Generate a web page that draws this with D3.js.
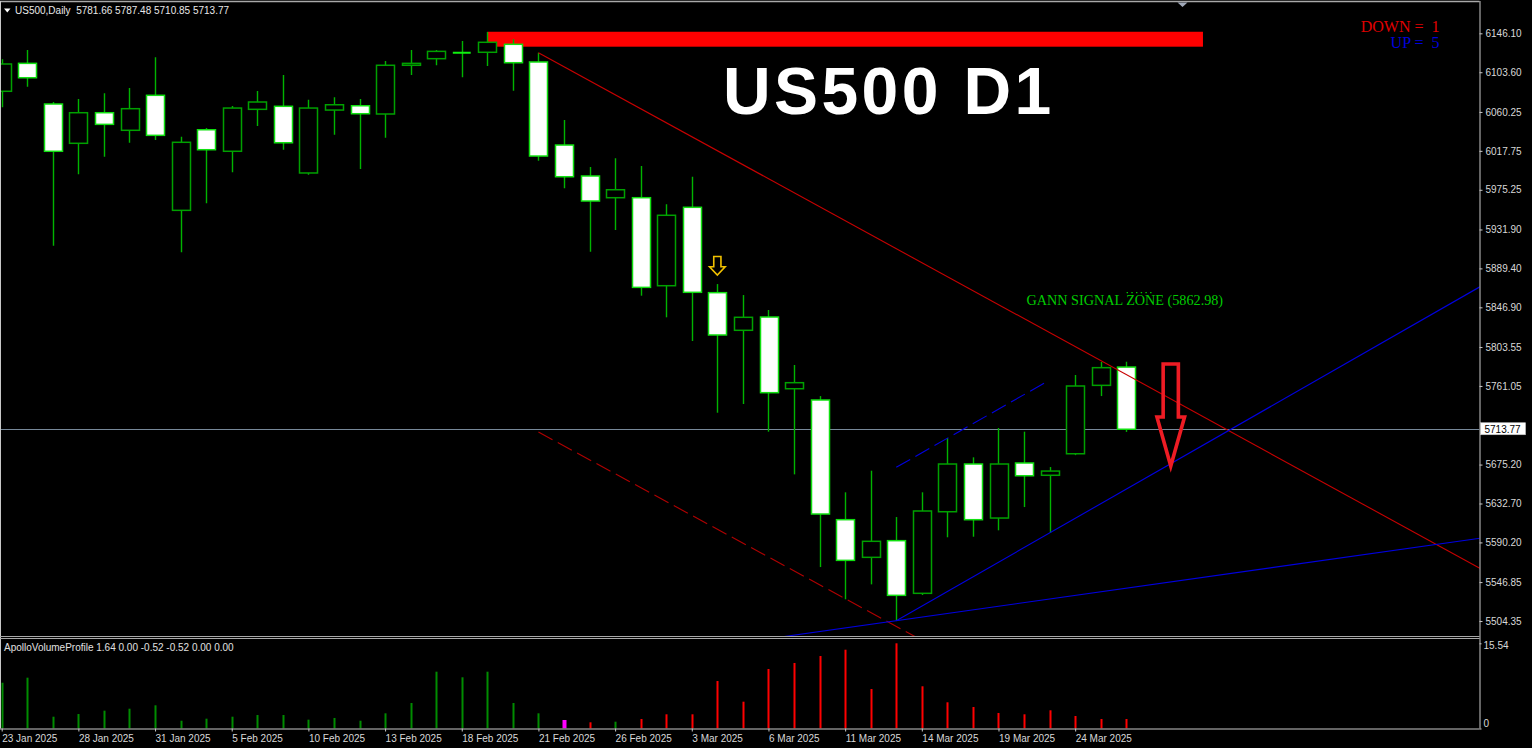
<!DOCTYPE html>
<html><head><meta charset="utf-8">
<script src="https://cdn.jsdelivr.net/npm/d3@7"></script>
<style>
html,body{margin:0;padding:0;background:#000;overflow:hidden;}
svg{display:block;}
text{font-family:"Liberation Sans",Arial,sans-serif;}
text.serif{font-family:"Liberation Serif","Times New Roman",serif;}
</style></head><body>
<svg id="chart" width="1532" height="748"></svg>
<script>
// ---------------- DATA ----------------
const dates = ["23 Jan 2025","24 Jan 2025","27 Jan 2025","28 Jan 2025","29 Jan 2025","30 Jan 2025","31 Jan 2025",
  "3 Feb 2025","4 Feb 2025","5 Feb 2025","6 Feb 2025","7 Feb 2025","10 Feb 2025","11 Feb 2025","12 Feb 2025",
  "13 Feb 2025","14 Feb 2025","17 Feb 2025","18 Feb 2025","19 Feb 2025","20 Feb 2025","21 Feb 2025","24 Feb 2025",
  "25 Feb 2025","26 Feb 2025","27 Feb 2025","28 Feb 2025","3 Mar 2025","4 Mar 2025","5 Mar 2025","6 Mar 2025",
  "7 Mar 2025","10 Mar 2025","11 Mar 2025","12 Mar 2025","13 Mar 2025","14 Mar 2025","17 Mar 2025","18 Mar 2025",
  "19 Mar 2025","20 Mar 2025","21 Mar 2025","24 Mar 2025","25 Mar 2025","26 Mar 2025"];
const opens  = [6082.8,6113.3,6068.9,6026.0,6059.4,6040.2,6078.4,5952.8,6040.8,6017.3,6063.1,6066.4,5993.6,6062.3,6067.0,
  6058.0,6111.2,6118.4,6124.9,6125.4,6134.1,6114.8,6024.1,5990.3,5966.6,5966.6,5870.5,5956.1,5862.9,5821.8,5836.3,
  5758.0,5745.7,5615.0,5573.9,5592.1,5534.6,5623.7,5675.8,5616.8,5676.9,5663.5,5687.0,5761.7,5781.66];
const highs  = [6117.7,6127.9,6071.1,6074.4,6080.6,6086.4,6119.9,6033.2,6042.7,6066.7,6083.1,6100.6,6073.6,6076.2,6074.4,
  6115.9,6127.9,6127.9,6137.7,6147.5,6139.5,6124.9,6051.4,6000.1,6009.6,6001.2,5959.4,5989.5,5872.3,5860.3,5844.0,
  5783.9,5750.0,5644.9,5668.5,5617.9,5644.9,5704.2,5683.1,5715.1,5711.1,5672.5,5773.0,5787.2,5787.48];
const lows   = [6065.3,6087.8,5914.2,5992.1,6011.4,6026.6,6029.6,5907.0,5960.5,5994.3,6044.9,6019.0,5991.7,6035.4,5997.9,
  6032.1,6100.6,6111.2,6098.1,6110.4,6083.4,6007.0,5976.8,5907.6,5931.3,5859.6,5836.0,5810.1,5731.8,5741.3,5711.1,
  5664.5,5563.3,5528.1,5544.4,5504.7,5532.8,5595.8,5596.4,5603.4,5628.8,5600.5,5685.5,5750.0,5710.85];
const closes = [6112.6,6097.6,6017.3,6059.4,6046.7,6063.8,6034.7,6027.1,6019.0,6064.5,6071.1,6026.6,6064.5,6068.1,6058.3,
  6111.2,6113.3,6126.4,6124.7,6136.3,6114.0,6012.1,5989.5,5963.0,5975.3,5868.7,5947.4,5863.3,5816.7,5836.0,5753.7,
  5764.6,5621.2,5570.6,5591.4,5532.4,5624.5,5675.8,5615.0,5675.8,5663.0,5668.1,5761.0,5781.0,5713.77];
const volumes = [8.35,9.27,2.15,2.64,3.25,3.61,4.23,1.42,1.79,2.15,2.46,2.46,1.61,1.92,1.42,2.77,4.65,10.36,9.34,10.36,
  4.65,2.77,1.55,1.13,1.24,1.73,2.59,2.59,8.66,4.89,10.85,11.95,13.22,14.37,7.20,15.54,7.70,4.78,3.92,2.83,2.59,3.32,
  2.28,1.73,1.73];
const volumeState = ["up","up","up","up","up","up","up","up","up","up","up","up","up","up","up","up","up","up","up","up",
  "up","up","climax","down","up","down","down","down","down","down","down","down","down","down","down","down","down",
  "down","down","down","down","down","down","down","down"];
const priceTicks = [6146.10,6103.60,6060.25,6017.75,5975.25,5931.90,5889.40,5846.90,5803.55,5761.05,5718.55,
  5675.20,5632.70,5590.20,5546.85,5504.35];
const dateTickIdx = [0,3,6,9,12,15,18,21,24,27,30,33,36,39,42];
const volumeTicks = [0, 15.54];
const symbolName = "US500,Daily";
const lastBar = [5781.66, 5787.48, 5710.85, 5713.77];
const lastPrice = 5713.77;
const gannLevel = 5862.98;
const signalCounts = {down: 1, up: 5};
const indicatorHeader = "ApolloVolumeProfile 1.64 0.00 -0.52 -0.52 0.00 0.00";
const chartTitle = "US500 D1";

// drawn objects (anchors: bar index, price)
const trendDown       = [[21, 6124.9], [44, 5773.4]];
const trendDownDashed = [[21, 5710.7], [35, 5498.5]];
const fanSteep        = [[35, 5504.7], [41, 5600.5]];
const fanFlat         = [[35, 5504.7], [44, 5540.2]];
const channelDashed   = [[35, 5672.2], [40.82, 5764.6]];
const zoneRect        = {i0: 19, i1: 47, p0: 6131.5, p1: 6147.8};
const sellArrowSmall  = {i: 28, p: 5882.2};
const sellArrowBig    = {i: 45.74, p: 5673.6};
const gannLabelAnchor = {i: 40.1, p: 5849.4};

// ---------------- CHART ----------------
const W = 1532, H = 748;
const P = {left: 0, right: 1479.5, top: 2, bottom: 636, volTop: 638.5, volBottom: 728.5};
const svg = d3.select("#chart");
svg.append("rect").attr("width", W).attr("height", H).attr("fill", "#000");

const x  = d3.scaleLinear().domain([0, 57.8]).range([1.7, 1479]);
const y  = d3.scaleLinear().domain([5488.0, 6180.3]).range([P.bottom, P.top]);
const yv = d3.scaleLinear().domain([0, d3.max(volumes)]).range([P.volBottom, 643.3]);
const step = x(1) - x(0);
const bodyW = step * 0.70;

const defs = svg.append("defs");
defs.append("clipPath").attr("id", "mainClip").append("rect")
  .attr("x", 0).attr("y", P.top).attr("width", P.right).attr("height", P.bottom - P.top);
defs.append("clipPath").attr("id", "volClip").append("rect")
  .attr("x", 0).attr("y", P.volTop).attr("width", P.right).attr("height", P.volBottom - P.volTop);

const main = svg.append("g").attr("clip-path", "url(#mainClip)");

// bid line (background)
main.append("line").attr("x1", 0).attr("x2", P.right)
  .attr("y1", Math.round(y(lastPrice)) + 0.5).attr("y2", Math.round(y(lastPrice)) + 0.5)
  .attr("stroke", "#778899").attr("stroke-width", 1);

// zone rectangle (background)
main.append("rect")
  .attr("x", x(zoneRect.i0)).attr("width", x(zoneRect.i1) - x(zoneRect.i0))
  .attr("y", y(zoneRect.p1)).attr("height", y(zoneRect.p0) - y(zoneRect.p1))
  .attr("fill", "#ff0000");

// candles
const bars = d3.range(dates.length).map(i => ({i, o: opens[i], h: highs[i], l: lows[i], c: closes[i]}));
const cg = main.append("g");
cg.selectAll("line.wick").data(bars).join("line").attr("class", "wick")
  .attr("x1", d => Math.round(x(d.i)) + 0.5).attr("x2", d => Math.round(x(d.i)) + 0.5)
  .attr("y1", d => y(d.h)).attr("y2", d => y(d.l))
  .attr("stroke", "#00b400").attr("stroke-width", 1.4);
cg.selectAll("rect.body").data(bars.filter(d => Math.abs(y(d.o) - y(d.c)) >= 1.5)).join("rect").attr("class", "body")
  .attr("x", d => Math.round(x(d.i) - bodyW / 2) + 0.5)
  .attr("width", Math.round(bodyW))
  .attr("y", d => y(Math.max(d.o, d.c)))
  .attr("height", d => Math.abs(y(d.o) - y(d.c)))
  .attr("fill", d => d.c >= d.o ? "#000" : "#fff")
  .attr("stroke", d => d.c >= d.o ? "#00a000" : "#10e010")
  .attr("stroke-width", 1.5);
cg.selectAll("line.doji").data(bars.filter(d => Math.abs(y(d.o) - y(d.c)) < 1.5)).join("line").attr("class", "doji")
  .attr("x1", d => x(d.i) - bodyW / 2).attr("x2", d => x(d.i) + bodyW / 2)
  .attr("y1", d => y(d.o)).attr("y2", d => y(d.o))
  .attr("stroke", "#10f010").attr("stroke-width", 1.8);

// trend lines
function extend(a, b, mode) {
  const x1 = x(a[0]), y1 = y(a[1]), x2 = x(b[0]), y2 = y(b[1]);
  const k = (y2 - y1) / (x2 - x1);
  if (mode === "segment") return [[x1, y1], [x2, y2]];
  const xs = mode === "both" ? -10 : x1;
  const xe = P.right + 10;
  return [[xs, y1 + k * (xs - x1)], [xe, y1 + k * (xe - x1)]];
}
const lineGen = d3.line();
const tl = main.append("g").attr("fill", "none");
tl.append("path").attr("d", lineGen(extend(...trendDown, "ray"))).attr("stroke", "#c80000").attr("stroke-width", 1.1);
tl.append("path").attr("d", lineGen(extend(...trendDownDashed, "ray"))).attr("stroke", "#b00000")
  .attr("stroke-width", 1.1).attr("stroke-dasharray", "16,6");
tl.append("path").attr("d", lineGen(extend(...fanSteep, "ray"))).attr("stroke", "#0000e0").attr("stroke-width", 1.1);
tl.append("path").attr("d", lineGen(extend(...fanFlat, "both"))).attr("stroke", "#0000e0").attr("stroke-width", 1.1);
tl.append("path").attr("d", lineGen(extend(...channelDashed, "segment"))).attr("stroke", "#0000e0")
  .attr("stroke-width", 1.1).attr("stroke-dasharray", "16,6");

// arrows
function downArrow(cx, tip, sh, shaftLen, headLen, hh) {
  return `M${cx - sh},${tip - shaftLen} L${cx + sh},${tip - shaftLen} L${cx + sh},${tip - headLen} L${cx + hh},${tip - headLen}
    L${cx},${tip} L${cx - hh},${tip - headLen} L${cx - sh},${tip - headLen} Z`;
}
main.append("path").attr("d", downArrow(x(sellArrowSmall.i), y(sellArrowSmall.p), 3.6, 18.5, 8.2, 7.8))
  .attr("fill", "#000").attr("stroke", "#f0c000").attr("stroke-width", 1.6);
main.append("path").attr("d", downArrow(x(sellArrowBig.i), y(sellArrowBig.p), 7.6, 102, 49, 13.8))
  .attr("fill", "none").attr("stroke", "#ee1c24").attr("stroke-width", 3.6).attr("stroke-linejoin", "miter");

// GANN label
const gx = x(gannLabelAnchor.i), gy = y(gannLabelAnchor.p);
svg.append("text").attr("class", "serif").attr("x", gx).attr("y", gy)
  .attr("fill", "#00cc00").attr("font-size", 14.2)
  .text(`GANN SIGNAL ZONE (${gannLevel.toFixed(2)})`);
svg.append("line").attr("x1", gx + 100).attr("x2", gx + 126).attr("y1", gy - 12.5).attr("y2", gy - 12.5)
  .attr("stroke", "#00cc00").attr("stroke-width", 1.3).attr("stroke-dasharray", "1.4,3.3");

// Title
svg.append("text").attr("x", 723).attr("y", 114)
  .attr("fill", "#fff").attr("font-size", 66).attr("font-weight", "bold")
  .attr("letter-spacing", 3.4)
  .text(chartTitle);

// signal counters
const cnt = svg.append("g").attr("font-size", 16).attr("text-anchor", "end");
cnt.append("text").attr("class", "serif").attr("x", P.right - 40).attr("y", 32).attr("fill", "#e00000")
  .style("white-space", "pre").text(`DOWN =  ${signalCounts.down}`);
cnt.append("text").attr("class", "serif").attr("x", P.right - 40).attr("y", 48).attr("fill", "#0000dd")
  .style("white-space", "pre").text(`UP =  ${signalCounts.up}`);

// header
svg.append("path").attr("d", "M4,8.5 L10.5,8.5 L7.25,12.5 Z").attr("fill", "#fff");
svg.append("text").attr("x", 15).attr("y", 13.5).attr("fill", "#e8e8e8").attr("font-size", 10)
  .style("white-space", "pre")
  .text(`${symbolName}  ${lastBar.map(v => v.toFixed(2)).join(" ")}`);

// volume panel
const vg = svg.append("g").attr("clip-path", "url(#volClip)");
const volColor = {up: "#008c00", down: "#ff0000", climax: "#ff00ff"};
vg.selectAll("rect").data(volumes.map((v, i) => ({v, i, s: volumeState[i]}))).join("rect")
  .attr("x", d => Math.round(x(d.i)) - (d.s === "climax" ? 1.5 : 0.5))
  .attr("width", d => d.s === "climax" ? 4 : 2)
  .attr("y", d => yv(d.v)).attr("height", d => yv(0) - yv(d.v))
  .attr("fill", d => volColor[d.s]);
svg.append("text").attr("x", 4).attr("y", 650.5).attr("fill", "#e0e0e0").attr("font-size", 10).text(indicatorHeader);

// frames
const frame = svg.append("g").attr("stroke", "#a8a8a8").attr("stroke-width", 1).attr("fill", "none");
frame.append("line").attr("x1", 0).attr("x2", P.right).attr("y1", 1.5).attr("y2", 1.5).attr("stroke-width", 1.6);
frame.append("line").attr("x1", 0.5).attr("x2", 0.5).attr("y1", 1).attr("y2", P.volBottom).attr("stroke", "#c8c8c8");
frame.append("line").attr("x1", 0).attr("x2", P.right).attr("y1", 636.5).attr("y2", 636.5);
frame.append("line").attr("x1", 0).attr("x2", P.right).attr("y1", 638.5).attr("y2", 638.5);
svg.append("path").attr("d", `M${x(46.2) - 5},2.5 L${x(46.2) + 5},2.5 L${x(46.2)},7 Z`).attr("fill", "#a0a8b8");

// price axis (the tick hidden under the bid label is not drawn)
const shownTicks = priceTicks.filter(t => Math.abs(y(t) - y(lastPrice)) > 8);
const ax = svg.append("g").attr("transform", `translate(${P.right},0)`)
  .call(d3.axisRight(y).tickValues(shownTicks).tickFormat(d3.format(".2f")).tickSize(3).tickPadding(3).tickSizeOuter(0));
ax.select(".domain").attr("d", `M0.5,1V${P.volBottom}`).attr("stroke", "#c8c8c8");
ax.selectAll(".tick line").attr("stroke", "#c8c8c8");
ax.selectAll(".tick text").attr("fill", "#d8d8d8").attr("font-size", 10);

// bid label
const by = y(lastPrice);
svg.append("rect").attr("x", P.right + 1).attr("y", by - 6.5).attr("width", 45).attr("height", 12)
  .attr("fill", "#fff").attr("stroke", "#c8c8c8").attr("stroke-width", 0.6);
svg.append("text").attr("x", P.right + 5).attr("y", by + 3.8).attr("fill", "#000").attr("font-size", 10)
  .text(lastPrice.toFixed(2));

// volume axis
const vax = svg.append("g").attr("transform", `translate(${P.right},0)`)
  .call(d3.axisRight(yv).tickValues(volumeTicks).tickFormat(d => d === 0 ? "0" : d.toFixed(2)).tickSize(2).tickPadding(2).tickSizeOuter(0));
vax.select(".domain").remove();
vax.selectAll(".tick line").attr("stroke", "#c8c8c8");
vax.selectAll(".tick text").attr("fill", "#d8d8d8").attr("font-size", 10)
  .attr("dy", d => d === 0 ? "-0.2em" : "0.5em");

// date axis
const dax = svg.append("g").attr("transform", `translate(0,${P.volBottom})`)
  .call(d3.axisBottom(x).tickValues(dateTickIdx).tickFormat(i => dates[i]).tickSize(3).tickPadding(3).tickSizeOuter(0));
dax.select(".domain").attr("d", `M0,0.5H${P.right}`).attr("stroke", "#c8c8c8");
dax.selectAll(".tick line").attr("stroke", "#c8c8c8");
dax.selectAll(".tick text").attr("fill", "#d8d8d8").attr("font-size", 10).attr("text-anchor", "start").attr("x", 0);
</script>
</body></html>
